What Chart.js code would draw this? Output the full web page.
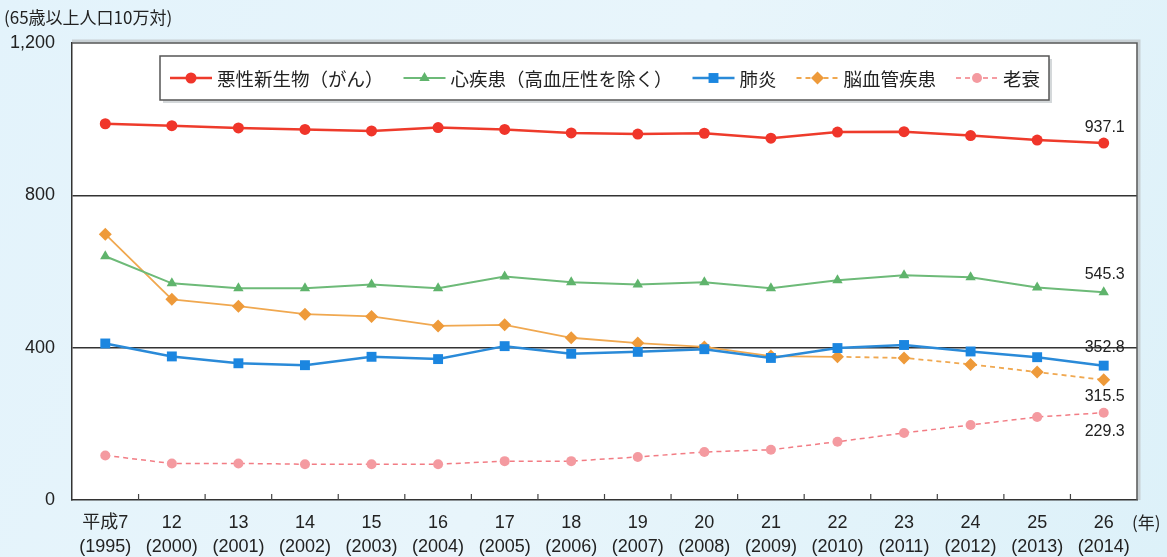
<!DOCTYPE html>
<html lang="ja">
<head>
<meta charset="utf-8">
<title>65歳以上の主な死因別死亡率</title>
<script src="https://cdn.jsdelivr.net/npm/chart.js@4.4.1/dist/chart.umd.min.js"></script>
<style>
  html, body { margin: 0; padding: 0; background: #e2f3fa; }
  canvas { display: block; }
</style>
</head>
<body>
<canvas id="deaths" width="1167" height="557"></canvas>
<script>
// 年次（和暦 / 西暦）
const eraYears = ['平成7', '12', '13', '14', '15', '16', '17', '18', '19', '20', '21', '22', '23', '24', '25', '26'];
const westernYears = ['(1995)', '(2000)', '(2001)', '(2002)', '(2003)', '(2004)', '(2005)', '(2006)', '(2007)', '(2008)', '(2009)', '(2010)', '(2011)', '(2012)', '(2013)', '(2014)'];

// 死亡率（65歳以上人口10万対）
const cancer    = [988, 983, 977, 973, 969, 978, 973, 964, 961, 963, 950, 966, 967, 957, 945, 937.1];
const heart     = [640, 569, 556, 556, 566, 556, 587, 572, 566, 572, 556, 577, 590, 585, 558, 545.3];
const pneumonia = [411, 377, 359, 354, 376, 370, 404, 384, 389, 396, 373, 399, 407, 390, 375, 352.8];
const cerebro   = [698, 527, 509, 488, 482, 457, 460, 426, 412, 402, 378, 376, 373, 356, 336, 315.5];
const senility  = [117, 96, 96, 94, 94, 94, 102, 102, 113, 126, 132, 153, 176, 197, 218, 229.3];

const yTicks = [0, 400, 800, 1200];

const FONT = '"Liberation Sans", "Noto Sans CJK JP", sans-serif';
const JP_FONT = '"Noto Sans CJK JP", "Liberation Sans", sans-serif';

const dash = [5, 4];

const datasets = [
  { label: '悪性新生物（がん）', data: cancer, borderColor: '#ee3b2b', backgroundColor: '#f0352a',
    borderWidth: 2.5, pointStyle: 'circle', pointRadius: 5.5, labelOffset: -16 },
  { label: '心疾患（高血圧性を除く）', data: heart, borderColor: '#6dba78', backgroundColor: '#5fb46c',
    borderWidth: 2, pointStyle: 'triangle', pointRadius: 6, labelOffset: -18 },
  { label: '肺炎', data: pneumonia, borderColor: '#2a8ad8', backgroundColor: '#1b86e0',
    borderWidth: 2.5, pointStyle: 'rect', pointRadius: 7, labelOffset: -18 },
  { label: '脳血管疾患', data: cerebro, borderColor: '#f0a850', backgroundColor: '#ee9a3a',
    borderWidth: 1.8, pointStyle: 'rectRot', pointRadius: 6.5, labelOffset: 17, legendDash: dash,
    segment: { borderDash: c => c.p0DataIndex >= 11 ? dash : undefined } },
  { label: '老衰', data: senility, borderColor: '#f27c84', backgroundColor: '#f49aa0',
    borderWidth: 1.5, pointStyle: 'circle', pointRadius: 5, borderDash: dash, legendDash: dash, labelOffset: 19 }
].map(d => Object.assign({ pointBorderWidth: 0, pointBackgroundColor: d.backgroundColor, tension: 0, fill: false }, d));

// 背景・プロット枠・目盛り・凡例・注記
const decor = {
  id: 'decor',
  beforeDraw(chart) {
    const { ctx, chartArea: a, width, height } = chart;
    ctx.save();
    const g = ctx.createLinearGradient(0, 0, width, height);
    g.addColorStop(0, '#e3f3fb');
    g.addColorStop(0.5, '#e8f5fb');
    g.addColorStop(1, '#ddf1f9');
    ctx.fillStyle = g;
    ctx.fillRect(0, 0, width, height);
    ctx.fillStyle = '#ffffff';
    ctx.fillRect(a.left, a.top, a.right - a.left, a.bottom - a.top);
    ctx.restore();
  },
  beforeDatasetsDraw(chart) {
    const { ctx, chartArea: a, scales: { x } } = chart;
    ctx.save();
    // top and right frame
    ctx.strokeStyle = '#c8d0d4';
    ctx.lineWidth = 3;
    ctx.beginPath();
    ctx.moveTo(a.left, a.top - 2);
    ctx.lineTo(a.right + 2, a.top - 2);
    ctx.lineTo(a.right + 2, a.bottom);
    ctx.stroke();
    ctx.strokeStyle = '#555';
    ctx.lineWidth = 1.5;
    ctx.beginPath();
    ctx.moveTo(a.left, a.top);
    ctx.lineTo(a.right, a.top);
    ctx.lineTo(a.right, a.bottom);
    ctx.stroke();
    // small ticks between categories
    ctx.strokeStyle = '#444';
    ctx.lineWidth = 1.2;
    for (let i = 0; i < eraYears.length - 1; i++) {
      const px = (x.getPixelForValue(i) + x.getPixelForValue(i + 1)) / 2;
      ctx.beginPath();
      ctx.moveTo(px, a.bottom - 6);
      ctx.lineTo(px, a.bottom);
      ctx.stroke();
    }
    ctx.restore();
  },
  afterDatasetsDraw(chart) {
    const { ctx } = chart;
    ctx.save();
    ctx.font = '16px ' + FONT;
    ctx.fillStyle = '#222';
    ctx.textAlign = 'center';
    ctx.textBaseline = 'middle';
    chart.data.datasets.forEach((ds, i) => {
      const pts = chart.getDatasetMeta(i).data;
      const last = pts[pts.length - 1];
      const v = ds.data[ds.data.length - 1];
      ctx.fillText(v.toFixed(1), last.x + 1, last.y + ds.labelOffset);
    });
    ctx.restore();
  },
  afterDraw(chart) {
    const { ctx, chartArea: a } = chart;
    const helpers = Chart.helpers;
    ctx.save();

    // unit note
    ctx.font = '17px ' + JP_FONT;
    ctx.fillStyle = '#222';
    ctx.textBaseline = 'middle';
    ctx.textAlign = 'left';
    ctx.fillText('(65歳以上人口10万対)', 4, 18);
    ctx.font = '17px ' + JP_FONT;
    ctx.fillText('(年)', a.right - 5, a.bottom + 23);

    // legend box
    const bx = a.left + 88, by = a.top + 13, bw = 889, bh = 44;
    ctx.fillStyle = '#d4d8da';
    ctx.fillRect(bx + 3, by + 3, bw, bh);
    ctx.fillStyle = '#ffffff';
    ctx.fillRect(bx, by, bw, bh);
    ctx.strokeStyle = '#555';
    ctx.lineWidth = 1.5;
    ctx.strokeRect(bx, by, bw, bh);

    ctx.font = '18.5px ' + JP_FONT;
    let lx = bx + 10;
    const ly = by + bh / 2;
    chart.data.datasets.forEach(ds => {
      ctx.save();
      ctx.strokeStyle = ds.borderColor;
      ctx.lineWidth = ds.borderWidth;
      ctx.setLineDash(ds.legendDash || []);
      ctx.beginPath();
      ctx.moveTo(lx, ly);
      ctx.lineTo(lx + 42, ly);
      ctx.stroke();
      ctx.setLineDash([]);
      ctx.fillStyle = ds.backgroundColor;
      ctx.strokeStyle = ds.backgroundColor;
      helpers.drawPoint(ctx, { pointStyle: ds.pointStyle, radius: ds.pointRadius, rotation: 0, borderWidth: 0 }, lx + 21, ly);
      ctx.restore();
      ctx.fillStyle = '#222';
      ctx.textAlign = 'left';
      ctx.fillText(ds.label, lx + 47, ly + 1);
      lx += 47 + ctx.measureText(ds.label).width + 20;
    });
    ctx.restore();
  }
};

new Chart(document.getElementById('deaths'), {
  type: 'line',
  data: {
    labels: eraYears.map((e, i) => [e, westernYears[i]]),
    datasets: datasets
  },
  options: {
    responsive: false,
    animation: false,
    devicePixelRatio: 1,
    layout: { padding: { left: 0, right: 30, top: 43, bottom: 0 } },
    plugins: {
      legend: { display: false },
      tooltip: { enabled: false }
    },
    scales: {
      x: {
        offset: true,
        grid: { display: false, drawTicks: false },
        border: { display: true, color: '#333', width: 1.5 },
        ticks: {
          color: '#222',
          padding: 11,
          maxRotation: 0,
          autoSkip: false,
          font: { family: FONT, size: 18, lineHeight: 1.33 }
        },
        afterFit(scale) { scale.height = 57; }
      },
      y: {
        min: 0,
        max: 1200,
        afterBuildTicks(scale) { scale.ticks = yTicks.map(v => ({ value: v })); },
        grid: {
          drawTicks: false,
          lineWidth: 1.5,
          color: c => (c.tick && (c.tick.value === 400 || c.tick.value === 800)) ? '#333' : 'rgba(0,0,0,0)'
        },
        border: { display: true, color: '#333', width: 1.5 },
        ticks: {
          color: '#222',
          padding: 17,
          font: { family: FONT, size: 18 },
          callback: v => v.toLocaleString('en-US')
        },
        afterFit(scale) { scale.width = 72; }
      }
    }
  },
  plugins: [decor]
});
</script>
</body>
</html>
